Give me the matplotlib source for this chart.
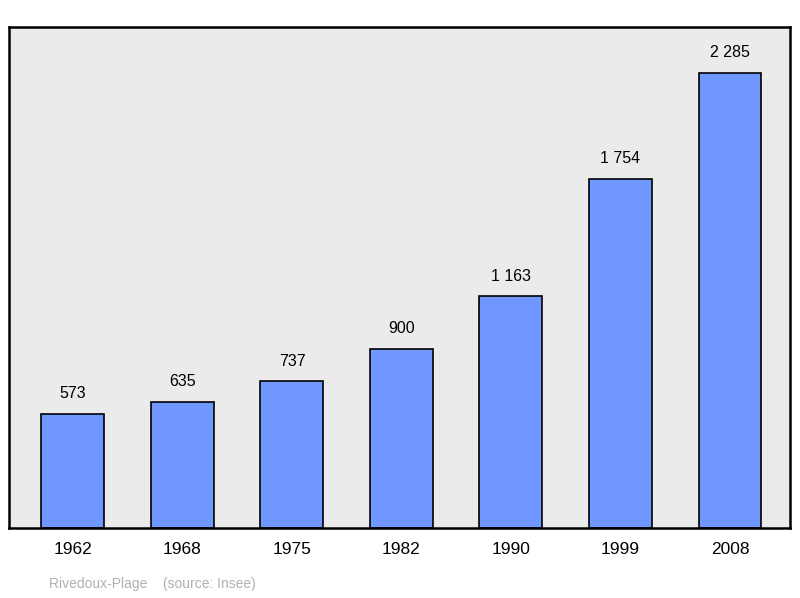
import matplotlib
matplotlib.use("Agg")
import matplotlib.pyplot as plt

years = ["1962", "1968", "1975", "1982", "1990", "1999", "2008"]
population = [573, 635, 737, 900, 1163, 1754, 2285]
value_labels = ["573", "635", "737", "900", "1 163", "1 754", "2 285"]

plt.rcParams['font.family'] = ['Liberation Sans', 'DejaVu Sans']
fig = plt.figure(figsize=(8.0, 5.98), dpi=100)
ax = fig.add_axes([9/800, 1-528/598, (790-9)/800, (528-27)/598])
ax.set_facecolor('#ebebeb')
x = list(range(len(years)))
ax.bar(x, population, width=0.575, color='#7096ff', edgecolor='black', linewidth=1.2, zorder=2)
for xi, v, lab in zip(x, population, value_labels):
    ax.text(xi, v + 2516*0.025, lab, ha='center', va='bottom', fontsize=11.5)
ax.set_xlim(-0.584, 6.548)
ax.set_ylim(0, 2516)
ax.set_yticks([])
ax.set_xticks(x)
ax.set_xticklabels(years, fontsize=12.5)
ax.tick_params(axis='x', length=0, pad=10)
for s in ax.spines.values():
    s.set_linewidth(1.8)
fig.text(49/800, 1-584/598, "Rivedoux-Plage    (source: Insee)", color='#b0b0b0', fontsize=10, va='center')
fig.savefig("out.png", dpi=100)
